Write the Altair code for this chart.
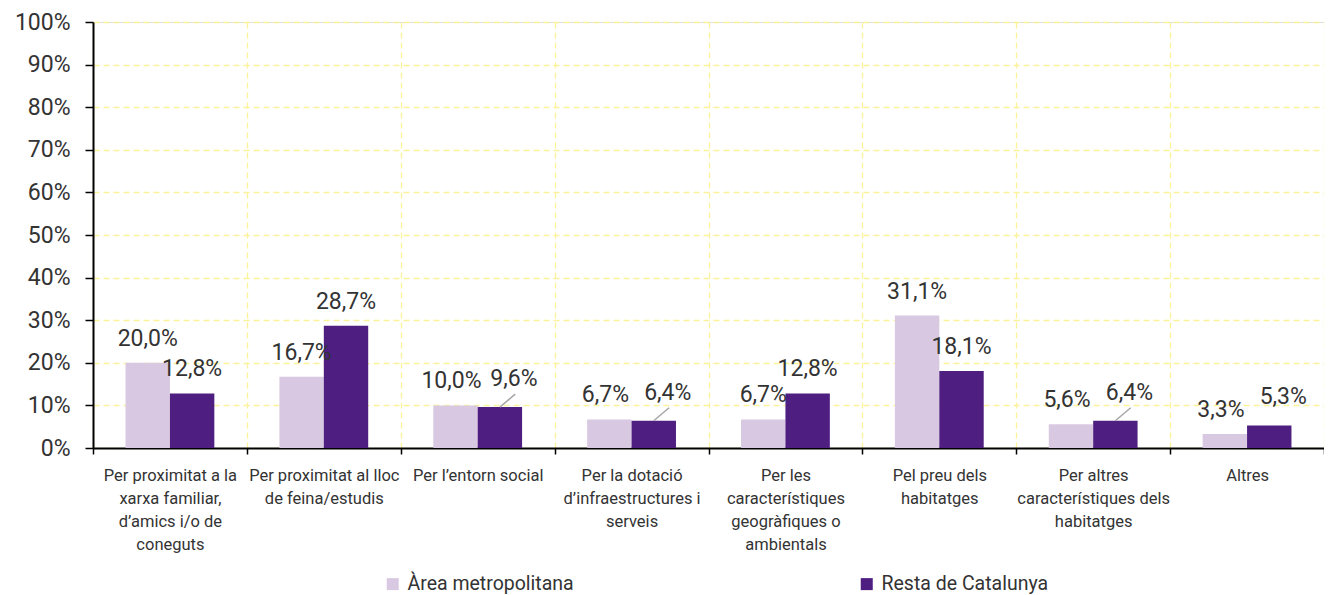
import altair as alt
import pandas as pd

categories = [
    "Per proximitat a la|xarxa familiar,|d’amics i/o de|coneguts",
    "Per proximitat al lloc|de feina/estudis",
    "Per l’entorn social",
    "Per la dotació|d’infraestructures i|serveis",
    "Per les|característiques|geogràfiques o|ambientals",
    "Pel preu dels|habitatges",
    "Per altres|característiques dels|habitatges",
    "Altres",
]
series = ["Àrea metropolitana", "Resta de Catalunya"]
area_metropolitana = [20.0, 16.7, 10.0, 6.7, 6.7, 31.1, 5.6, 3.3]
resta_catalunya = [12.8, 28.7, 9.6, 6.4, 12.8, 18.1, 6.4, 5.3]
y_ticks = [0, 10, 20, 30, 40, 50, 60, 70, 80, 90, 100]

rows = []
for c, a, r in zip(categories, area_metropolitana, resta_catalunya):
    rows.append({"cat": c, "serie": series[0], "value": a})
    rows.append({"cat": c, "serie": series[1], "value": r})
df = pd.DataFrame(rows)

FONT = "Roboto"
TXT = "#333333"
GRID = "#FBF29A"
colors = ["#D8C8E2", "#4E1E80"]

x_enc = alt.X(
    "cat:N",
    sort=categories,
    title=None,
    scale=alt.Scale(paddingInner=0, paddingOuter=0),
    axis=alt.Axis(
        labelExpr="split(datum.label, '|')",
        labelAngle=0,
        labelFont=FONT,
        labelFontSize=16.5,
        labelColor=TXT,
        labelLineHeight=23,
        labelPadding=13,
        labelBaseline="top",
        labelLimit=200,
        tickBand="extent",
        tickColor="black",
        tickSize=6,
        tickWidth=1.5,
        domainColor="black",
        domainWidth=2,
        grid=True,
        gridColor=GRID,
        gridDash=[6, 4],
        gridWidth=1.3,
    ),
)
xoff_enc = alt.XOffset(
    "serie:N", sort=series, scale=alt.Scale(paddingOuter=0.733, paddingInner=0)
)
y_enc = alt.Y(
    "value:Q",
    title=None,
    scale=alt.Scale(domain=[0, 100], nice=False),
    axis=alt.Axis(
        values=y_ticks,
        labelExpr="datum.value + '%'",
        labelFont=FONT,
        labelFontSize=23,
        labelColor=TXT,
        labelPadding=15,
        tickColor="black",
        tickSize=8,
        tickWidth=1.5,
        domainColor="black",
        domainWidth=2,
        gridColor=GRID,
        gridDash=[6, 4],
        gridWidth=1.3,
    ),
)

base = alt.Chart(df).transform_calculate(
    label="replace(format(datum.value, '.1f'), '.', ',') + '%'"
).transform_joinaggregate(
    maxv="max(value)", minv="min(value)", groupby=["cat"]
).transform_calculate(
    diff="datum.maxv - datum.minv"
)

bars = base.mark_bar().encode(
    x=x_enc,
    xOffset=xoff_enc,
    y=y_enc,
    color=alt.Color(
        "serie:N",
        sort=series,
        scale=alt.Scale(domain=series, range=colors),
        legend=alt.Legend(
            title=None,
            orient="none",
            direction="horizontal",
            legendX=290,
            legendY=552,
            symbolType="square",
            symbolSize=144,
            symbolStrokeWidth=0,
            labelFont=FONT,
            labelFontSize=19.5,
            labelColor=TXT,
            labelLimit=300,
            labelOffset=5,
            columnPadding=283,
            symbolOffset=0,
        ),
    ),
)

text_common = dict(font=FONT, fontSize=23, color=TXT, baseline="alphabetic")

labels_normal = base.transform_filter("datum.diff >= 2.5").mark_text(
    dy=-17, **text_common
).encode(x=x_enc, xOffset=xoff_enc, y=y_enc, text="label:N")

labels_close_light = base.transform_filter(
    "datum.diff < 2.5 && datum.serie == 'Àrea metropolitana'"
).mark_text(dy=-17, dx=-4, **text_common).encode(
    x=x_enc, xOffset=xoff_enc, y=y_enc, text="label:N"
)

labels_close_dark = base.transform_filter(
    "datum.diff < 2.5 && datum.serie == 'Resta de Catalunya'"
).mark_text(dy=-21, dx=14, **text_common).encode(
    x=x_enc, xOffset=xoff_enc, y=y_enc, text="label:N"
)

leaders = base.transform_filter(
    "datum.diff < 1 && datum.serie == 'Resta de Catalunya'"
).mark_rule(color="#A6A6A6", strokeWidth=1.5, x2Offset=37.5, y2Offset=-13).encode(
    x=x_enc,
    xOffset=xoff_enc,
    x2=alt.X2("cat:N"),
    y=y_enc,
    y2=alt.Y2("value:Q"),
)

chart = (
    alt.layer(bars, leaders, labels_normal, labels_close_light, labels_close_dark)
    .properties(
        width=1231,
        height=426,
        autosize=alt.AutoSizeParams(type="none"),
        padding={"left": 85, "top": 14, "right": 0, "bottom": 150},
    )
    .configure_view(stroke=None)
    .configure(font=FONT)
)

chart.save("out.html", embed_options={"renderer": "svg", "actions": False})
